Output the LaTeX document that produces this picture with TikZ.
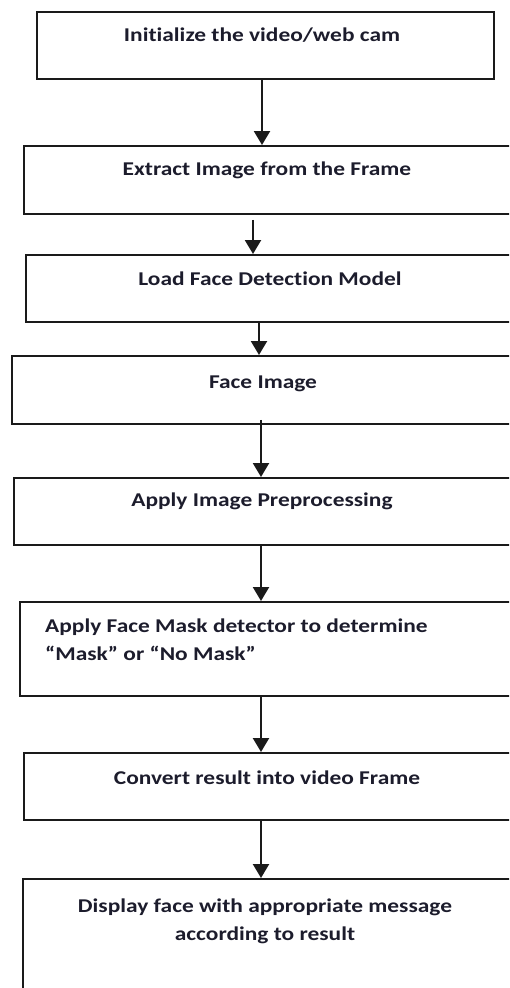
\documentclass[tikz,border=0pt]{standalone}
\usepackage{fontspec}
\setmainfont{Carlito}[FakeStretch=1.2, Ligatures=NoCommon]
\usetikzlibrary{arrows.meta}
\definecolor{ink}{HTML}{1C1C2C}
\definecolor{edge}{HTML}{1A1A1A}
\begin{document}
\begin{tikzpicture}[x=1pt,y=-1pt,
  box/.style={draw=edge, line width=1.8pt, inner sep=0pt, anchor=north west},
  steptext/.style={font=\bfseries\fontsize{19.5}{28}\selectfont, text=ink, inner sep=0pt, anchor=base},
  flow/.style={draw=edge, line width=2.2pt, -{Triangle[width=16pt,length=14pt]}}]
\useasboundingbox (0,0) rectangle (509,988);
\clip (0,0) rectangle (509,988);

% process boxes
\node[box, minimum width=457pt, minimum height=67pt] (b1) at (36,11) {};
\node[box, minimum width=492pt, minimum height=68pt] (b2) at (23,145) {};
\node[box, minimum width=490pt, minimum height=67pt] (b3) at (25,254) {};
\node[box, minimum width=504pt, minimum height=68pt] (b4) at (11,355) {};
\node[box, minimum width=502pt, minimum height=67pt] (b5) at (13,477) {};
\node[box, minimum width=496pt, minimum height=94pt] (b6) at (19,601) {};
\node[box, minimum width=492pt, minimum height=67pt] (b7) at (23,752) {};
\node[box, minimum width=493pt, minimum height=130pt] (b8) at (22,878) {};

% step labels (multi-line labels sit on the baseline of their last line)
\node[steptext] (t1) at (262,41) {Initialize the video/web cam};
\node[steptext] (t2) at (267,175) {Extract Image from the Frame};
\node[steptext] (t3) at (270,285) {Load Face Detection Model};
\node[steptext] (t4) at (263,388) {Face Image};
\node[steptext] (t5) at (262,506) {Apply Image Preprocessing};
\node[steptext, anchor=base west, align=left] (t6) at (45,660)
  {Apply Face Mask detector to determine\\“Mask” or “No Mask”};
\node[steptext] (t7) at (267,784) {Convert result into video Frame};
\node[steptext, align=center] (t8) at (265,940)
  {Display face with appropriate message\\according to result};

% arrow columns
\coordinate (x1) at (262,0);
\coordinate (x2) at (253,0);
\coordinate (x3) at (259,0);
\coordinate (x4) at (261,0);

% connectors
\draw[flow] (b1.south -| x1) -- (b2.north -| x1);
\draw[flow, shorten <=5pt] (b2.south -| x2) -- (b3.north -| x2);
\draw[flow] (b3.south -| x3) -- (b4.north -| x3);
\draw[flow, shorten <=-5pt] (b4.south -| x4) -- (b5.north -| x4);
\draw[flow] (b5.south -| x4) -- (b6.north -| x4);
\draw[flow] (b6.south -| x4) -- (b7.north -| x4);
\draw[flow] (b7.south -| x4) -- (b8.north -| x4);
\end{tikzpicture}
\end{document}
